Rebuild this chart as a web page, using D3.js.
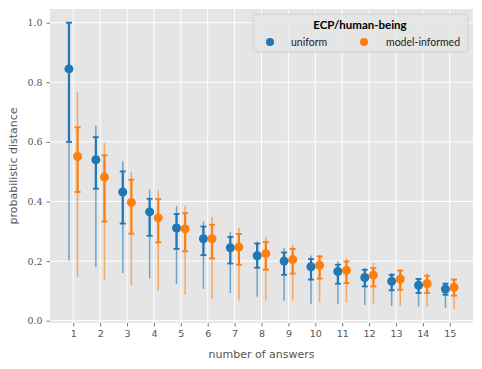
<!DOCTYPE html>
<html><head><meta charset="utf-8">
<script src="https://cdn.jsdelivr.net/npm/d3@7"></script>
<style>body{margin:0;background:#fff}svg{display:block}</style>
</head><body><svg id="c" width="482" height="369"></svg>
<script>
const answers = [1,2,3,4,5,6,7,8,9,10,11,12,13,14,15];
const yTicks = [0.0,0.2,0.4,0.6,0.8,1.0];
// uniform
const uMean = [0.845,0.540,0.432,0.365,0.311,0.275,0.245,0.218,0.200,0.181,0.165,0.145,0.132,0.119,0.106];
const uQlo  = [0.600,0.443,0.326,0.285,0.241,0.220,0.192,0.178,0.154,0.138,0.124,0.115,0.102,0.093,0.087];
const uQhi  = [1.000,0.616,0.501,0.409,0.358,0.316,0.281,0.259,0.229,0.207,0.188,0.171,0.154,0.140,0.124];
const uMin  = [0.202,0.180,0.160,0.142,0.124,0.107,0.093,0.080,0.067,0.056,0.055,0.053,0.050,0.048,0.043];
const uMax  = [1.000,0.654,0.534,0.440,0.384,0.333,0.298,0.267,0.244,0.219,0.199,0.177,0.160,0.143,0.129];
// model-informed
const mMean = [0.551,0.482,0.397,0.345,0.308,0.275,0.247,0.225,0.205,0.186,0.169,0.153,0.140,0.124,0.112];
const mQlo  = [0.432,0.333,0.292,0.263,0.233,0.209,0.188,0.171,0.158,0.141,0.126,0.115,0.104,0.093,0.084];
const mQhi  = [0.649,0.555,0.473,0.408,0.361,0.322,0.291,0.264,0.241,0.216,0.199,0.177,0.168,0.151,0.138];
const mMin  = [0.147,0.135,0.118,0.102,0.087,0.073,0.068,0.068,0.067,0.061,0.061,0.057,0.051,0.046,0.039];
const mMax  = [0.767,0.596,0.500,0.437,0.386,0.348,0.311,0.282,0.254,0.221,0.210,0.194,0.173,0.158,0.142];
const seriesNames = ["uniform","model-informed"];
const colors = ["#1f77b4","#ff7f0e"];

const svg = d3.select("#c");
const L=50, R=473, T=9, B=323;
const x = d3.scaleLinear().domain([0.135,15.865]).range([L,R]);
const y = d3.scaleLinear().domain([-0.0077,1.046]).range([B,T]);

svg.append("rect").attr("x",L).attr("y",T).attr("width",R-L).attr("height",B-T).attr("fill","#e5e5e5");
const g = svg.append("g");
g.selectAll(".gx").data(answers).join("line").attr("x1",d=>x(d)).attr("x2",d=>x(d)).attr("y1",T).attr("y2",B).attr("stroke","#fff").attr("stroke-width",1);
g.selectAll(".gy").data(yTicks).join("line").attr("y1",d=>y(d)).attr("y2",d=>y(d)).attr("x1",L).attr("x2",R).attr("stroke","#fff").attr("stroke-width",1);

// axes
const xAxis = svg.append("g").attr("transform",`translate(0,${B})`)
  .call(d3.axisBottom(x).tickValues(answers).tickSize(3.5).tickPadding(4).tickFormat(d3.format("d")));
const yAxis = svg.append("g").attr("transform",`translate(${L},0)`)
  .call(d3.axisLeft(y).tickValues(yTicks).tickSize(3.5).tickPadding(4).tickFormat(d3.format(".1f")));
[xAxis,yAxis].forEach(a=>{a.select(".domain").remove();a.selectAll(".tick line").attr("stroke","#555").attr("stroke-width",0.8);});
xAxis.selectAll("text").attr("fill","#555").style("font-family","'DejaVu Sans', sans-serif").style("font-size","9.5px");
yAxis.selectAll("text").attr("fill","#555").style("font-family","'DejaVu Serif', serif").style("font-size","9.5px");

svg.append("text").attr("x",(L+R)/2).attr("y",358).attr("text-anchor","middle").attr("fill","#555")
  .style("font-family","'DejaVu Sans', sans-serif").style("font-size","11px").text("number of answers");
svg.append("text").attr("transform",`translate(17,${(T+B)/2}) rotate(-90)`).attr("text-anchor","middle").attr("fill","#555")
  .style("font-family","'DejaVu Sans', sans-serif").style("font-size","11px").text("probabilistic distance");

const series = [
  {mean:uMean,qlo:uQlo,qhi:uQhi,min:uMin,max:uMax,off:-0.16,c:colors[0]},
  {mean:mMean,qlo:mQlo,qhi:mQhi,min:mMin,max:mMax,off:0.16,c:colors[1]}
];
series.forEach(s=>{
  const gg = svg.append("g");
  const data = answers.map((a,i)=>({a,mean:s.mean[i],qlo:s.qlo[i],qhi:s.qhi[i],min:s.min[i],max:s.max[i]}));
  const px = d=>x(d.a+s.off);
  gg.selectAll(".thin").data(data).join("line").attr("x1",px).attr("x2",px)
    .attr("y1",d=>y(d.min)).attr("y2",d=>y(d.max)).attr("stroke",s.c).attr("stroke-width",1.5).attr("stroke-opacity",0.6);
  gg.selectAll(".thick").data(data).join("line").attr("x1",px).attr("x2",px)
    .attr("y1",d=>y(d.qlo)).attr("y2",d=>y(d.qhi)).attr("stroke",s.c).attr("stroke-width",2.2);
  ["qlo","qhi"].forEach(k=>{
    gg.selectAll(".cap"+k).data(data).join("line").attr("x1",d=>px(d)-3).attr("x2",d=>px(d)+3)
      .attr("y1",d=>y(d[k])).attr("y2",d=>y(d[k])).attr("stroke",s.c).attr("stroke-width",1.8);
  });
  gg.selectAll("circle").data(data).join("circle").attr("cx",px).attr("cy",d=>y(d.mean)).attr("r",4.5).attr("fill",s.c);
});

// legend
const lg = svg.append("g");
lg.append("rect").attr("x",253).attr("y",14).attr("width",215).attr("height",38).attr("rx",3)
  .attr("fill","#e5e5e5").attr("fill-opacity",0.8).attr("stroke","#ccc").attr("stroke-width",0.8);
lg.append("text").attr("x",360).attr("y",28.5).attr("text-anchor","middle").attr("fill","#000")
  .style("font-family","Lato, sans-serif").style("font-weight","bold").style("font-size","11.5px").text("ECP/human-being");
const lx = [270,364], tx=[291,386];
seriesNames.forEach((n,i)=>{
  lg.append("circle").attr("cx",lx[i]).attr("cy",42).attr("r",4).attr("fill",colors[i]);
  lg.append("text").attr("x",tx[i]).attr("y",45.5).attr("fill","#222")
    .style("font-family","Lato, sans-serif").style("font-size","10.5px").text(n);
});
</script></body></html>
